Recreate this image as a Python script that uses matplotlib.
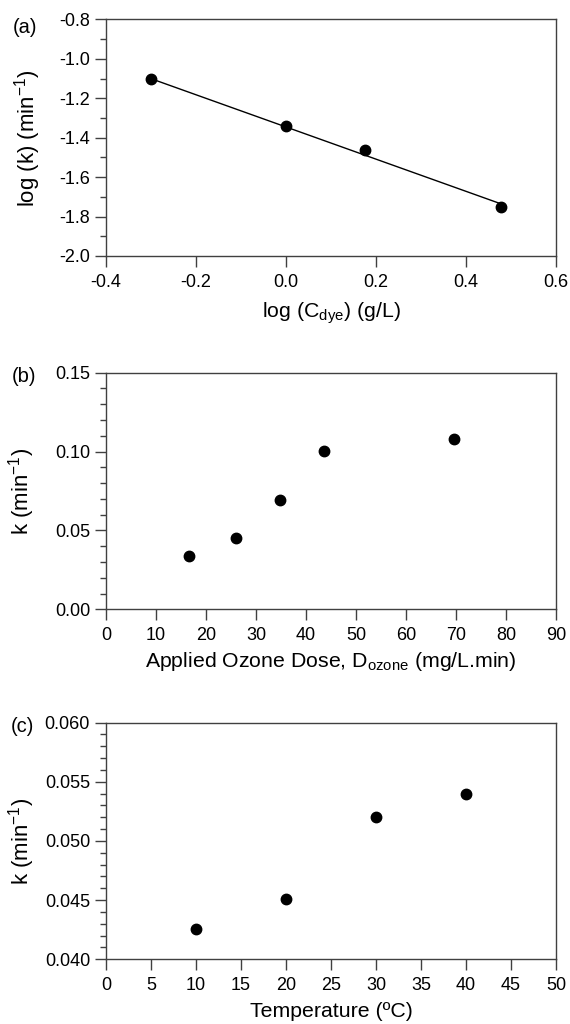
import matplotlib
matplotlib.use("Agg")
import matplotlib.pyplot as plt
from matplotlib.ticker import MultipleLocator, FormatStrFormatter

plt.rcParams['font.family'] = ['Liberation Sans', 'DejaVu Sans']
plt.rcParams['mathtext.fontset'] = 'custom'
plt.rcParams['mathtext.rm'] = 'Liberation Sans'
plt.rcParams['mathtext.it'] = 'Liberation Sans'
plt.rcParams['mathtext.default'] = 'regular'

# --- (a) log k vs log C_dye ---
log_cdye = [-0.301, 0.0, 0.176, 0.477]
log_k = [-1.104, -1.341, -1.463, -1.752]
fit_x = [-0.301, 0.477]
fit_y = [-1.100, -1.735]

# --- (b) k vs applied ozone dose ---
ozone_dose = [16.6, 26.0, 34.7, 43.5, 69.5]
k_ozone = [0.0338, 0.0450, 0.0691, 0.1006, 0.1078]

# --- (c) k vs temperature ---
temperature = [10, 20, 30, 40]
k_temp = [0.04256, 0.04507, 0.05205, 0.05395]

SPINE = '#404040'
TICK_FS = 13
XLABEL_FS = 15.3
YLABEL_FS = 16
PANEL_FS = 14.5

fig = plt.figure(figsize=(5.7, 10.24), dpi=100)


def style_axes(ax):
    for s in ax.spines.values():
        s.set_color(SPINE)
        s.set_linewidth(1.0)
    ax.tick_params(which='major', direction='out', length=8, width=1.0,
                   color=SPINE, labelsize=TICK_FS, labelcolor='black')
    ax.tick_params(axis='y', which='major', pad=3.5)
    ax.tick_params(axis='x', which='major', pad=5)
    ax.tick_params(which='minor', direction='out', length=4.5, width=1.0,
                   color=SPINE)
    ax.tick_params(axis='x', which='minor', bottom=False)


# panel a
ax1 = fig.add_axes([0.186, 0.750, 0.7895, 0.2311])
ax1.plot(fit_x, fit_y, color='black', lw=1.0)
ax1.plot(log_cdye, log_k, 'o', color='black', ms=7.5)
ax1.set_xlim(-0.4, 0.6)
ax1.set_ylim(-2.0, -0.8)
ax1.xaxis.set_major_locator(MultipleLocator(0.2))
ax1.yaxis.set_major_locator(MultipleLocator(0.2))
ax1.yaxis.set_minor_locator(MultipleLocator(0.1))
ax1.xaxis.set_major_formatter(FormatStrFormatter('%.1f'))
ax1.yaxis.set_major_formatter(FormatStrFormatter('%.1f'))
ax1.set_xlabel('log (C$_{dye}$) (g/L)', fontsize=XLABEL_FS)
ax1.set_ylabel('log (k) (min$^{-1}$)', fontsize=YLABEL_FS)
ax1.xaxis.set_label_coords(0.5, -0.186)
ax1.yaxis.set_label_coords(-0.139, 0.5)
style_axes(ax1)

# panel b
ax2 = fig.add_axes([0.186, 0.405, 0.7895, 0.2311])
ax2.plot(ozone_dose, k_ozone, 'o', color='black', ms=7.5)
ax2.set_xlim(0, 90)
ax2.set_ylim(0, 0.15)
ax2.xaxis.set_major_locator(MultipleLocator(10))
ax2.yaxis.set_major_locator(MultipleLocator(0.05))
ax2.yaxis.set_minor_locator(MultipleLocator(0.01))
ax2.yaxis.set_major_formatter(FormatStrFormatter('%.2f'))
ax2.set_xlabel('Applied Ozone Dose, D$_{ozone}$ (mg/L.min)', fontsize=XLABEL_FS)
ax2.set_ylabel('k (min$^{-1}$)', fontsize=YLABEL_FS)
ax2.xaxis.set_label_coords(0.5, -0.172)
ax2.yaxis.set_label_coords(-0.154, 0.5)
style_axes(ax2)

# panel c
ax3 = fig.add_axes([0.186, 0.0632, 0.7895, 0.2311])
ax3.plot(temperature, k_temp, 'o', color='black', ms=7.5)
ax3.set_xlim(0, 50)
ax3.set_ylim(0.040, 0.060)
ax3.xaxis.set_major_locator(MultipleLocator(5))
ax3.yaxis.set_major_locator(MultipleLocator(0.005))
ax3.yaxis.set_minor_locator(MultipleLocator(0.001))
ax3.yaxis.set_major_formatter(FormatStrFormatter('%.3f'))
ax3.set_xlabel('Temperature (ºC)', fontsize=XLABEL_FS)
ax3.set_ylabel('k (min$^{-1}$)', fontsize=YLABEL_FS)
ax3.xaxis.set_label_coords(0.5, -0.18)
ax3.yaxis.set_label_coords(-0.154, 0.5)
style_axes(ax3)

fig.text(0.022, 0.9727, '(a)', fontsize=PANEL_FS, va='center', ha='left')
fig.text(0.021, 0.632, '(b)', fontsize=PANEL_FS, va='center', ha='left')
fig.text(0.018, 0.291, '(c)', fontsize=PANEL_FS, va='center', ha='left')

fig.savefig('out.png', dpi=100)
